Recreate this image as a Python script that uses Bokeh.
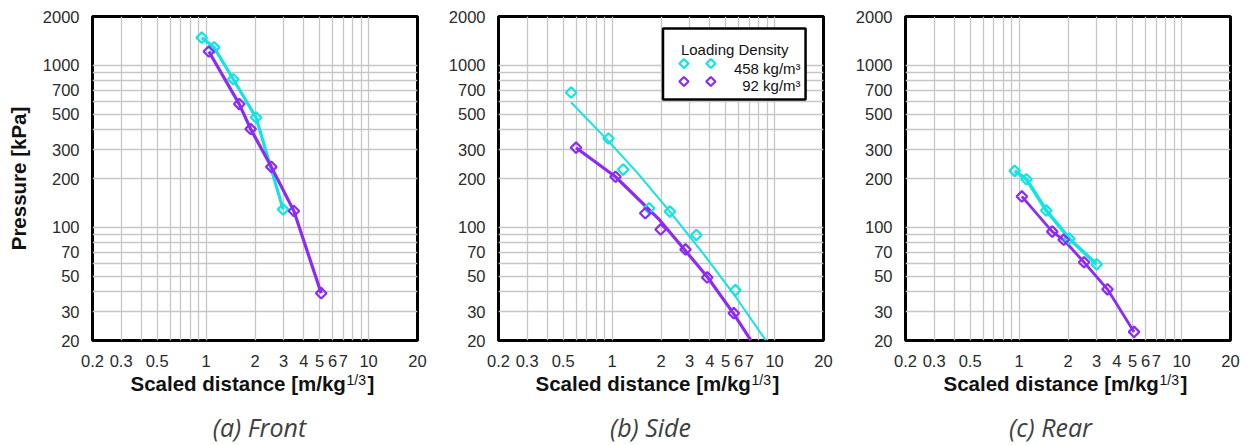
import numpy as np
from bokeh.plotting import figure
from bokeh.layouts import row, column
from bokeh.models import FixedTicker, CustomJSTickFormatter, Range1d, LinearScale
from bokeh.core.properties import value
from bokeh.embed import file_html
from bokeh.resources import INLINE

CYAN = "#14e3e3"
PURPLE = "#8c2cf2"

# ---------------- data ----------------
front_458_x = [0.94, 1.12, 1.47, 2.03, 2.98]
front_458_p = [1480, 1290, 820, 476, 129]
front_92_x = [1.04, 1.60, 1.88, 2.52, 3.47, 5.11]
front_92_p = [1216, 576, 404, 236, 126, 39.2]

side_458_x = [0.56, 0.95, 1.17, 1.69, 2.27, 3.30, 5.74]
side_458_p = [679, 353, 227, 131, 125, 89.6, 40.9]
side_92_x = [0.60, 1.05, 1.60, 1.99, 2.83, 3.85, 5.61]
side_92_p = [310, 205, 122, 97, 73, 49, 29.5]
side_458_fit_x = [0.56, 0.95, 1.44, 2.27, 3.68, 5.74, 8.85]
side_458_fit_p = [589, 340, 215, 125, 67.8, 37.4, 20]
side_92_fit_x = [0.60, 1.05, 1.96, 3.85, 5.61, 7.16]
side_92_fit_p = [310, 205, 111, 49.5, 29.2, 20]

rear_458_x = [0.94, 1.11, 1.47, 2.04, 3.00]
rear_458_p = [223, 198, 127, 85, 59]
rear_92_x = [1.04, 1.60, 1.88, 2.51, 3.50, 5.10]
rear_92_p = [155, 94, 83.7, 60.8, 41.4, 22.6]

x_tick_labels = ["0.2", "0.3", "0.5", "1", "2", "3", "4", "5", "6", "7", "10", "20"]
y_tick_labels = ["20", "30", "50", "70", "100", "200", "300", "500", "700", "1000", "2000"]
captions = ["(a) Front", "(b) Side", "(c) Rear"]
series_labels = ["458 kg/m³", "92 kg/m³"]
legend_title = "Loading Density"
x_title = "Scaled distance [m/kg"
x_title_sup = "1/3"
x_title_end = "]"
y_title = "Pressure [kPa]"

X_RANGE = (0.2, 20)
Y_RANGE = (20, 2000)

x_ticks = [float(s) for s in x_tick_labels]
y_ticks = [float(s) for s in y_tick_labels]
x_grid = [m * d for d in (0.1, 1, 10) for m in range(1, 10) if 0.2 - 1e-9 <= m * d <= 20 + 1e-9]
y_grid = [m * d for d in (10, 100, 1000) for m in range(1, 10) if 20 - 1e-9 <= m * d <= 2000 + 1e-9]

FONT = "Liberation Sans"
TXT = "#111111"
fmt = CustomJSTickFormatter(code="return String(Math.round(tick*1000)/1000);")

TOP_H = 370
FRAME_LEFTS = [92, 497, 905]


def make_panel(width, left, right, show_ylabel):
    p = figure(width=width, height=TOP_H, x_axis_type="log", y_axis_type="log",
               x_range=X_RANGE, y_range=Y_RANGE, output_backend="svg",
               toolbar_location=None, min_border_left=left, min_border_right=right,
               min_border_top=16, min_border_bottom=TOP_H - 340)
    p.outline_line_color = "black"
    p.outline_line_width = 3
    p.background_fill_color = "white"
    p.border_fill_color = "white"
    for g, t in ((p.xgrid, x_grid), (p.ygrid, y_grid)):
        g.ticker = FixedTicker(ticks=t)
        g.grid_line_color = "#c6c6c6"
        g.grid_line_width = 1.3
    for ax, t in ((p.xaxis, x_ticks), (p.yaxis, y_ticks)):
        ax.ticker = FixedTicker(ticks=t)
        ax.formatter = fmt
        ax.major_tick_line_color = None
        ax.minor_tick_line_color = None
        ax.axis_line_color = None
        ax.major_label_text_font = FONT
        ax.major_label_text_font_size = "16.5px"
        ax.major_label_text_color = "#2b2b2b"
    p.xaxis.major_label_standoff = 8
    p.yaxis.major_label_standoff = 7
    if show_ylabel:
        p.yaxis.axis_label = y_title
        p.yaxis.axis_label_text_font = FONT
        p.yaxis.axis_label_text_font_style = "bold"
        p.yaxis.axis_label_text_font_size = "20.5px"
        p.yaxis.axis_label_text_color = TXT
        p.yaxis.axis_label_standoff = 10
    return p


def markers(p, x, y, color, **kw):
    return p.scatter(x, y, marker="square", angle=np.pi / 4, size=7.5, fill_color=None,
                     line_color=color, line_width=2.2, **kw)


# (a) Front
pa = make_panel(445, 92, 28, True)
pa.line(front_458_x, front_458_p, line_color=CYAN, line_width=3.2)
pa.line(front_92_x, front_92_p, line_color=PURPLE, line_width=3.2)
markers(pa, front_458_x, front_458_p, CYAN)
markers(pa, front_92_x, front_92_p, PURPLE)

# (b) Side
pb = make_panel(405, 52, 27, False)
pb.line(side_458_fit_x, side_458_fit_p, line_color=CYAN, line_width=2)
pb.line(side_92_fit_x, side_92_fit_p, line_color=PURPLE, line_width=3.2)
markers(pb, side_458_x, side_458_p, CYAN)
markers(pb, side_92_x, side_92_p, PURPLE)

# legend of panel (b), drawn in frame pixel coordinates
pb.extra_x_ranges = {"px": Range1d(0, 326)}
pb.extra_y_ranges = {"px": Range1d(0, 324)}
pb.extra_x_scales = {"px": LinearScale()}
pb.extra_y_scales = {"px": LinearScale()}
pb.quad(left=165, right=308, bottom=241, top=312, x_range_name="px", y_range_name="px",
        fill_color="white", line_color="black", line_width=2.5)
pb.text(x=[183], y=[291], text=[legend_title], x_range_name="px", y_range_name="px",
        text_font=value(FONT), text_font_size="15px", text_color=TXT,
        text_align="left", text_baseline="alphabetic")
pb.text(x=[303, 303], y=[272, 255], text=series_labels, x_range_name="px", y_range_name="px",
        text_font=value(FONT), text_font_size="15px", text_color=TXT,
        text_align="right", text_baseline="alphabetic")
for yy, col in ((277, CYAN), (259, PURPLE)):
    pb.scatter([186, 213], [yy, yy], marker="square", angle=np.pi / 4, size=6.5,
               fill_color=None, line_color=col, line_width=2.2,
               x_range_name="px", y_range_name="px")

# (c) Rear
pc = make_panel(397, 55, 17, False)
pc.line(rear_458_x, rear_458_p, line_color=CYAN, line_width=3.6)
pc.line(rear_92_x, rear_92_p, line_color=PURPLE, line_width=2.8)
markers(pc, rear_458_x, rear_458_p, CYAN)
markers(pc, rear_92_x, rear_92_p, PURPLE)

# bottom strip with x titles and captions (pixel coordinates, y from strip bottom)
BOT_H = 445 - TOP_H
bot = figure(width=1247, height=BOT_H, x_range=Range1d(0, 1247), y_range=Range1d(0, BOT_H),
             x_axis_location=None, y_axis_location=None, output_backend="svg",
             toolbar_location=None, min_border=0)
bot.outline_line_color = None
bot.xgrid.visible = False
bot.ygrid.visible = False
cap_x = [259, 650, 1050]
for i, fl in enumerate(FRAME_LEFTS):
    x0 = fl + 38
    bot.text(x=[x0], y=[62], text=[x_title], text_font=value(FONT), text_font_style="bold",
             text_font_size="20.5px", text_color=TXT, text_align="left",
             text_baseline="middle")
    bot.text(x=[x0 + 216], y=[66], text=[x_title_sup], text_font=value(FONT),
             text_font_size="14px", text_color=TXT, text_align="left",
             text_baseline="middle")
    bot.text(x=[x0 + 237], y=[62], text=[x_title_end], text_font=value(FONT),
             text_font_style="bold", text_font_size="20.5px", text_color=TXT,
             text_align="left", text_baseline="middle")
    bot.text(x=[cap_x[i]], y=[19], text=[captions[i]], text_font=value("Open Sans"),
             text_font_style="italic", text_font_size="25px", text_color="#404040",
             text_align="center", text_baseline="middle")

layout = column(row(pa, pb, pc), bot)
open("out.html", "w").write(file_html(layout, INLINE))
